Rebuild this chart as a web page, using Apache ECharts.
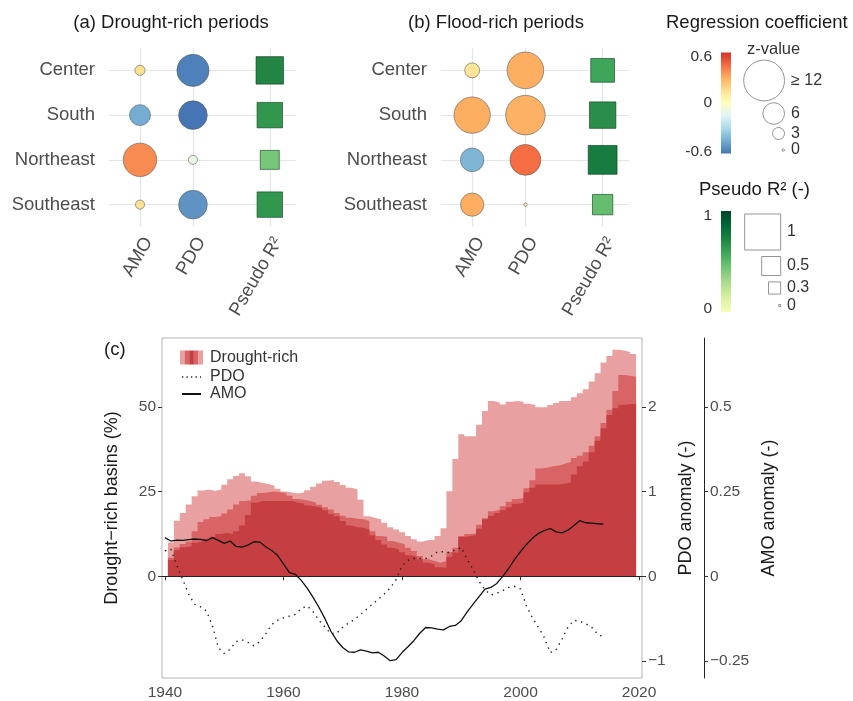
<!DOCTYPE html>
<html>
<head>
<meta charset="utf-8">
<script src="https://cdn.jsdelivr.net/npm/echarts@6/dist/echarts.min.js"></script>
<style>
  html, body { margin: 0; padding: 0; background: #ffffff; }
  #chart { width: 853px; height: 701px; }
</style>
</head>
<body>
<div id="chart"></div>
<script>
// ---------- panels (a) and (b): regression of regional frequencies ----------
const regions = ['Center', 'South', 'Northeast', 'Southeast'];
const predictors = ['AMO', 'PDO', 'Pseudo R²'];

// (a) drought-rich periods: coefficient, z-value, pseudo R² per region
const droughtAmoCoef = [0.14, -0.45, 0.38, 0.14];
const droughtAmoZ    = [2.4, 5.8, 9.7, 2.1];
const droughtPdoCoef = [-0.57, -0.60, -0.10, -0.52];
const droughtPdoZ    = [9.3, 8.2, 2.1, 8.2];
const droughtR2      = [0.75, 0.69, 0.50, 0.69];

// (b) flood-rich periods
const floodAmoCoef = [0.13, 0.30, -0.42, 0.30];
const floodAmoZ    = [3.9, 10.6, 6.6, 6.5];
const floodPdoCoef = [0.30, 0.29, 0.45, 0.08];
const floodPdoZ    = [10.7, 11.6, 8.9, 0.3];
const floodR2      = [0.64, 0.72, 0.79, 0.54];

// legend keys
const zLegendValues = [12, 6, 3, 0];
const zLegendLabels = ['≥ 12', '6', '3', '0'];
const r2LegendValues = [1, 0.5, 0.3, 0];
const r2LegendLabels = ['1', '0.5', '0.3', '0'];

// ---------- panel (c): share of drought-rich basins and climate indices ----------
const years = [1940,1941,1942,1943,1944,1945,1946,1947,1948,1949,1950,1951,1952,1953,1954,1955,1956,1957,1958,1959,
  1960,1961,1962,1963,1964,1965,1966,1967,1968,1969,1970,1971,1972,1973,1974,1975,1976,1977,1978,1979,
  1980,1981,1982,1983,1984,1985,1986,1987,1988,1989,1990,1991,1992,1993,1994,1995,1996,1997,1998,1999,
  2000,2001,2002,2003,2004,2005,2006,2007,2008,2009,2010,2011,2012,2013,2014,2015,2016,2017,2018,2019,2020];
const firstShareYear = 1941;

// percentages, 1941-2019 (three nested shares: outer / middle / inner)
const droughtOuter = [10.0,16.4,18.7,21.2,23.6,25.3,25.6,25.2,25.6,27.0,
  28.6,29.6,30.4,29.5,28.0,27.5,27.2,26.7,25.8,25.0,
  24.7,24.4,24.8,25.4,26.4,27.4,28.2,28.4,27.8,26.9,
  26.1,25.6,22.6,17.7,17.2,16.8,15.8,14.5,13.8,13.0,
  11.9,10.9,10.3,10.7,10.7,11.9,14.2,25.1,34.6,41.9,
  41.3,41.3,44.7,48.8,51.7,51.3,50.7,51.5,51.7,51.5,
  50.9,50.5,49.9,49.9,50.5,51.1,51.7,51.7,52.8,54.0,
  55.2,57.5,59.9,63.1,65.0,66.8,66.6,66.2,65.6];
const droughtMiddle = [5.5,8.5,9.5,10.2,13.3,16.0,16.8,17.5,17.7,18.5,
  19.7,21.2,22.2,22.4,23.8,24.6,24.8,25.0,24.8,24.6,
  23.8,22.8,22.6,22.2,21.7,21.1,20.4,19.7,18.7,17.9,
  17.3,17.0,16.8,16.3,13.3,11.9,11.7,10.4,9.9,9.4,
  8.4,7.5,6.0,5.0,4.5,4.0,4.5,7.2,8.4,11.9,
  12.5,12.6,15.2,17.1,19.2,19.7,20.7,22.0,22.8,23.1,
  26.0,28.3,31.8,32.0,32.5,32.7,33.2,33.7,34.9,35.6,
  36.6,38.5,41.3,45.2,49.1,54.7,59.4,59.2,58.9];
const droughtInner = [4.8,7.7,8.6,8.9,9.9,10.4,11.1,11.7,12.5,12.8,
  12.5,13.3,15.0,18.1,21.7,22.2,22.2,22.2,22.2,22.2,
  22.2,21.7,21.5,20.9,20.5,20.2,19.5,18.4,17.7,16.3,
  15.0,14.5,14.3,13.8,12.1,10.7,9.4,8.4,7.9,7.1,
  6.2,5.8,5.0,4.0,3.5,2.7,2.5,5.8,7.0,11.6,
  11.9,12.1,14.0,16.8,17.9,18.7,19.5,20.4,21.4,21.7,
  24.8,26.1,27.1,27.1,27.1,27.1,27.3,27.7,30.0,32.5,
  33.9,36.6,40.0,43.7,47.6,49.6,50.6,50.8,50.8];

// smoothed index anomalies, 1940-2014
const pdoAnomaly = [0.30,0.32,0.13,-0.04,-0.21,-0.33,-0.36,-0.41,-0.58,-0.84,
  -0.91,-0.86,-0.77,-0.75,-0.78,-0.82,-0.77,-0.68,-0.57,-0.52,
  -0.49,-0.47,-0.45,-0.38,-0.35,-0.42,-0.52,-0.60,-0.68,-0.67,
  -0.60,-0.55,-0.51,-0.45,-0.39,-0.33,-0.27,-0.21,-0.14,-0.04,
  0.12,0.19,0.21,0.21,0.21,0.24,0.29,0.29,0.28,0.31,
  0.34,0.20,0.08,-0.06,-0.16,-0.22,-0.20,-0.17,-0.13,-0.12,
  -0.15,-0.35,-0.49,-0.60,-0.72,-0.90,-0.87,-0.74,-0.60,-0.52,
  -0.53,-0.56,-0.60,-0.68,-0.72];
const amoAnomaly = [0.114,0.104,0.107,0.106,0.108,0.110,0.109,0.105,0.114,0.106,
  0.097,0.104,0.088,0.086,0.092,0.102,0.101,0.087,0.076,0.062,
  0.037,0.011,0.006,-0.012,-0.035,-0.062,-0.092,-0.125,-0.162,-0.190,
  -0.210,-0.223,-0.224,-0.217,-0.221,-0.226,-0.224,-0.235,-0.249,-0.246,
  -0.225,-0.208,-0.190,-0.168,-0.151,-0.152,-0.156,-0.158,-0.148,-0.145,
  -0.131,-0.105,-0.082,-0.060,-0.038,-0.033,-0.021,0.000,0.023,0.050,
  0.073,0.094,0.112,0.126,0.135,0.141,0.131,0.128,0.136,0.150,
  0.164,0.158,0.157,0.155,0.154];

const leftTicks = [0, 25, 50];
const pdoTicks = [-1, 0, 1, 2];
const amoTicks = [-0.25, 0, 0.25, 0.5];
const yearTicks = [1940, 1960, 1980, 2000, 2020];

// ---------- styling ----------
const FONT = '"Liberation Sans", Arial, Helvetica, sans-serif';
const TXT = '#4D4D4D';
const DARK = '#1a1a1a';
const GRIDC = '#E5E5E5';
const rdylbu = ['#4575b4','#74add1','#abd9e9','#e0f3f8','#ffffbf','#fee090','#fdae61','#f46d43','#d73027'];
const ylgn = ['#ffffe5','#f7fcb9','#d9f0a3','#addd8e','#78c679','#41ab5d','#238443','#006837','#004529'];
const shadeOuter = '#E8A0A0', shadeMiddle = '#D86465', shadeInner = '#C53E41';

const predictorPos = [1, 2, 3.45];
const zRadius = z => 1.2 + 1.6 * Math.min(z, 12);
const r2Side = v => 2 + 34 * v;
const minus = s => String(s).replace('-', '\u2212');

function circleData(amoCoef, amoZ, pdoCoef, pdoZ) {
  const out = [];
  regions.forEach((r, i) => {
    out.push([predictorPos[0], 4 - i, amoZ[i], amoCoef[i]]);
    out.push([predictorPos[1], 4 - i, pdoZ[i], pdoCoef[i]]);
  });
  return out;
}
function squareData(r2) {
  return regions.map((r, i) => [predictorPos[2], 4 - i, r2[i]]);
}

function panelX(gridIndex) {
  return {
    type: 'value', gridIndex, min: 0.415, max: 3.945,
    axisLine: { show: false },
    axisTick: { show: false, customValues: predictorPos },
    axisLabel: {
      customValues: predictorPos, rotate: 60, margin: 7, verticalAlign: 'top',
      fontSize: 18.5, fontFamily: FONT, color: TXT,
      formatter: v => predictors[predictorPos.indexOf(v)]
    },
    splitLine: { show: true, lineStyle: { color: GRIDC, width: 1.2 } }
  };
}
function panelY(gridIndex) {
  return {
    type: 'value', gridIndex, min: 0.5, max: 4.5,
    axisLine: { show: false },
    axisTick: { show: false, customValues: [1, 2, 3, 4] },
    axisLabel: {
      customValues: [1, 2, 3, 4], margin: 14,
      fontSize: 18.5, fontFamily: FONT, color: TXT,
      formatter: v => regions[4 - v]
    },
    splitLine: { show: true, lineStyle: { color: GRIDC, width: 1.2 } }
  };
}
function circleSeries(xi, data) {
  return {
    type: 'scatter', xAxisIndex: xi, yAxisIndex: xi, data,
    symbol: 'circle', symbolSize: v => 2 * zRadius(v[2]),
    itemStyle: { borderColor: '#5a5a5a', borderWidth: 0.6, opacity: 1 },
    silent: true, z: 3
  };
}
function squareSeries(xi, data) {
  return {
    type: 'scatter', xAxisIndex: xi, yAxisIndex: xi, data,
    symbol: 'rect', symbolSize: v => r2Side(v[2]),
    itemStyle: { borderColor: 'rgba(10,60,30,0.75)', borderWidth: 0.8, opacity: 1 },
    silent: true, z: 3
  };
}
// yearly shares drawn as stepped areas: each year covers its full one-year band
function stepPoints(values) {
  const pts = values.map((v, i) => [firstShareYear + i - 0.5, v]);
  pts.push([firstShareYear + values.length - 0.5, values[values.length - 1]]);
  return pts;
}
function shareSeries(values, color, extra) {
  return Object.assign({
    type: 'line', xAxisIndex: 3, yAxisIndex: 2, data: stepPoints(values),
    step: 'end', symbol: 'none', silent: true, z: 2,
    lineStyle: { width: 0, color },
    areaStyle: { color, opacity: 1 }
  }, extra || {});
}

const yearLabel = (idx) => yearTicks.indexOf(years[idx]) >= 0;

// ---------- legend graphics ----------
const g = [];
const txt = (x, y, text, size, color, align) => g.push({
  type: 'text', x, y, silent: true,
  style: { text, fontSize: size, fontFamily: FONT, fill: color, align: align || 'left', verticalAlign: 'middle' }
});

txt(171, 23, '(a) Drought-rich periods', 18.5, DARK, 'center');
txt(496, 23, '(b) Flood-rich periods', 18.5, DARK, 'center');
txt(666, 23, 'Regression coefficient', 18.5, DARK);

// coefficient colour bar
g.push({
  type: 'rect', silent: true, shape: { x: 721, y: 52.5, width: 10, height: 101 },
  style: { fill: new echarts.graphic.LinearGradient(0, 0, 0, 1,
    rdylbu.slice().reverse().map((c, i, a) => ({ offset: i / (a.length - 1), color: c }))) }
});
txt(712, 57, '0.6', 15.5, '#333', 'right');
txt(712, 103, '0', 15.5, '#333', 'right');
txt(712, 152, '-0.6', 15.5, '#333', 'right');

// z-value size key
txt(747, 49, 'z-value', 16.5, '#333');
const zKeyY = [80.5, 113.5, 133.5, 150];
zLegendValues.forEach((z, i) => {
  const r = zRadius(z);
  g.push({ type: 'circle', silent: true, shape: { cx: 784.5 - r, cy: zKeyY[i], r },
    style: { fill: '#ffffff', stroke: '#7a7a7a', lineWidth: 0.8 } });
  txt(791, zKeyY[i], zLegendLabels[i], 16, '#333');
});

// pseudo R² key
txt(699, 190, 'Pseudo R² (-)', 18.5, DARK);
g.push({
  type: 'rect', silent: true, shape: { x: 721, y: 211, width: 10, height: 101 },
  style: { fill: new echarts.graphic.LinearGradient(0, 0, 0, 1,
    ylgn.slice(1).reverse().map((c, i, a) => ({ offset: i / (a.length - 1), color: c }))) }
});
txt(712, 216, '1', 15.5, '#333', 'right');
txt(712, 309, '0', 15.5, '#333', 'right');
const r2KeyY = [232, 266, 288, 305.5];
r2LegendValues.forEach((v, i) => {
  const s = r2Side(v);
  g.push({ type: 'rect', silent: true, shape: { x: 780.7 - s, y: r2KeyY[i] - s / 2, width: s, height: s },
    style: { fill: '#ffffff', stroke: '#8a8a8a', lineWidth: 0.9 } });
  txt(787, r2KeyY[i], r2LegendLabels[i], 16, '#333');
});

// panel (c) tag and legend
txt(104, 350, '(c)', 18.5, DARK);
[shadeOuter, shadeMiddle, shadeInner, shadeMiddle, shadeOuter].forEach((c, i) => {
  g.push({ type: 'rect', silent: true, shape: { x: 180 + i * 4.6, y: 350.5, width: 4.7, height: 14 }, style: { fill: c } });
});
txt(210, 358, 'Drought-rich', 16, '#333');
g.push({ type: 'line', silent: true, shape: { x1: 182, y1: 377, x2: 201, y2: 377 },
  style: { stroke: '#222', lineWidth: 1.3, lineDash: [1.3, 3.2] } });
txt(210, 377, 'PDO', 16, '#333');
g.push({ type: 'line', silent: true, shape: { x1: 182, y1: 394, x2: 201, y2: 394 },
  style: { stroke: '#111', lineWidth: 2 } });
txt(210, 394, 'AMO', 16, '#333');

// ---------- chart ----------
const chart = echarts.init(document.getElementById('chart'), null, { renderer: 'canvas' });
chart.setOption({
  animation: false,
  backgroundColor: '#ffffff',
  textStyle: { fontFamily: FONT },
  grid: [
    { left: 109, top: 48, width: 187, height: 179 },
    { left: 441, top: 48, width: 188, height: 179 },
    { left: 162, top: 338, width: 480, height: 341, show: true, borderColor: '#b3b3b3', borderWidth: 1, backgroundColor: 'transparent' }
  ],
  xAxis: [
    panelX(0), panelX(1),
    {
      type: 'category', gridIndex: 2, data: years, boundaryGap: true,
      axisLine: { show: false },
      axisTick: { show: true, alignWithLabel: true, interval: yearLabel, length: 4, lineStyle: { color: '#333' } },
      axisLabel: { interval: yearLabel, margin: 7, fontSize: 15.5, fontFamily: FONT, color: TXT },
      splitLine: { show: false }
    },
    {
      type: 'value', gridIndex: 2, min: years[0] - 0.5, max: years[years.length - 1] + 0.5, show: false
    }
  ],
  yAxis: [
    panelY(0), panelY(1),
    {
      type: 'value', gridIndex: 2, min: -30, max: 70.3, position: 'left',
      axisLine: { show: false },
      axisTick: { show: true, customValues: leftTicks, length: 4, lineStyle: { color: '#333' } },
      axisLabel: { customValues: leftTicks, margin: 6, fontSize: 15.5, fontFamily: FONT, color: TXT },
      splitLine: { show: false },
      name: 'Drought\u2212rich basins (%)', nameLocation: 'middle', nameGap: 41,
      nameTextStyle: { fontSize: 18, fontFamily: FONT, color: DARK }
    },
    {
      type: 'value', gridIndex: 2, min: -1.2, max: 2.812, position: 'right',
      axisLine: { show: false },
      axisTick: { show: true, customValues: pdoTicks, length: 4, lineStyle: { color: '#333' } },
      axisLabel: { customValues: pdoTicks, margin: 6, fontSize: 15.5, fontFamily: FONT, color: TXT, formatter: minus },
      splitLine: { show: false },
      name: 'PDO anomaly (-)', nameLocation: 'middle', nameGap: 26,
      nameTextStyle: { fontSize: 18, fontFamily: FONT, color: DARK }
    },
    {
      type: 'value', gridIndex: 2, min: -0.3, max: 0.703, position: 'right', offset: 62,
      axisLine: { show: true, lineStyle: { color: '#222', width: 1 } },
      axisTick: { show: true, customValues: amoTicks, length: 4, lineStyle: { color: '#333' } },
      axisLabel: { customValues: amoTicks, margin: 6, fontSize: 15.5, fontFamily: FONT, color: TXT, formatter: minus },
      splitLine: { show: false },
      name: 'AMO anomaly (-)', nameLocation: 'middle', nameGap: 48,
      nameTextStyle: { fontSize: 18, fontFamily: FONT, color: DARK }
    }
  ],
  visualMap: [
    { type: 'continuous', show: false, min: -0.6, max: 0.6, dimension: 3, seriesIndex: [0, 2], inRange: { color: rdylbu } },
    { type: 'continuous', show: false, min: 0, max: 1, dimension: 2, seriesIndex: [1, 3], inRange: { color: ylgn } }
  ],
  series: [
    circleSeries(0, circleData(droughtAmoCoef, droughtAmoZ, droughtPdoCoef, droughtPdoZ)),
    squareSeries(0, squareData(droughtR2)),
    circleSeries(1, circleData(floodAmoCoef, floodAmoZ, floodPdoCoef, floodPdoZ)),
    squareSeries(1, squareData(floodR2)),
    shareSeries(droughtOuter, shadeOuter),
    shareSeries(droughtMiddle, shadeMiddle),
    shareSeries(droughtInner, shadeInner, {
      markLine: {
        silent: true, symbol: 'none', label: { show: false },
        lineStyle: { color: '#222', width: 1, type: 'solid' },
        data: [{ yAxis: 0 }]
      }
    }),
    {
      type: 'line', xAxisIndex: 2, yAxisIndex: 3, data: pdoAnomaly,
      symbol: 'none', silent: true, z: 5,
      lineStyle: { color: '#222', width: 1.4, type: [1.4, 4.6] }
    },
    {
      type: 'line', xAxisIndex: 2, yAxisIndex: 4, data: amoAnomaly,
      symbol: 'none', silent: true, z: 5,
      lineStyle: { color: '#111', width: 1.3, type: 'solid' }
    }
  ],
  graphic: g
});
</script>
</body>
</html>
